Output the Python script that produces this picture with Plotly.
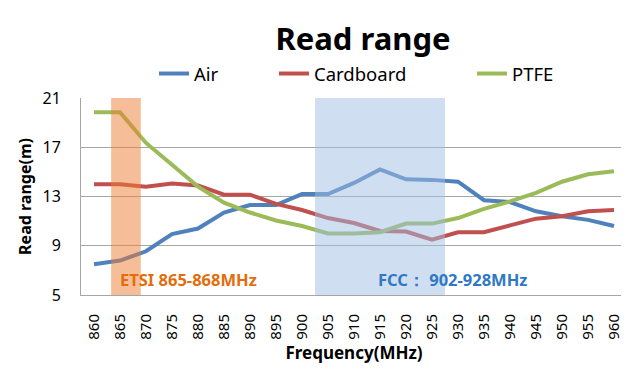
import plotly.graph_objects as go

freqs = [860, 865, 870, 875, 880, 885, 890, 895, 900, 905, 910,
         915, 920, 925, 930, 935, 940, 945, 950, 955, 960]
air = [7.5, 7.8, 8.55, 9.95, 10.4, 11.7, 12.3, 12.3, 13.2, 13.2, 14.1,
       15.2, 14.4, 14.35, 14.2, 12.7, 12.55, 11.8, 11.4, 11.1, 10.6]
cardboard = [14.0, 14.0, 13.8, 14.05, 13.9, 13.15, 13.15, 12.4, 11.9, 11.25, 10.85,
             10.2, 10.15, 9.5, 10.1, 10.1, 10.65, 11.2, 11.4, 11.8, 11.9]
ptfe = [19.85, 19.85, 17.35, 15.6, 13.8, 12.5, 11.7, 11.05, 10.6, 10.0, 10.0,
        10.1, 10.8, 10.8, 11.25, 12.0, 12.6, 13.3, 14.2, 14.8, 15.05]

series_names = ["Air", "Cardboard", "PTFE"]
series_colors = ["#4F81BD", "#C0504D", "#9BBB59"]
etsi_band = (863.3, 869.0)
fcc_band = (902.5, 927.5)
etsi_label = "ETSI 865-868MHz"
fcc_label = "FCC： 902-928MHz"

FONT = "Noto Sans"
W, H = 629, 370
L, R, T, B = 73, 10, 90, 83
PW, PH = W - L - R, H - T - B


def px_x(p):
    return (p - L) / PW


def px_y(p):
    return (H - B - p) / PH


fig = go.Figure()
legend_names = ["legend", "legend2", "legend3"]
for name, vals, col, lg in zip(series_names, [air, cardboard, ptfe], series_colors, legend_names):
    fig.add_trace(go.Scatter(x=freqs, y=vals, mode="lines", name=name,
                             line=dict(color=col, width=4), legend=lg,
                             showlegend=True))

fig.add_shape(type="rect", xref="x", yref="y", x0=etsi_band[0], x1=etsi_band[1],
              y0=4.85, y1=21, fillcolor="rgb(237,125,49)", opacity=0.5,
              line=dict(width=0), layer="above")
fig.add_shape(type="rect", xref="x", yref="y", x0=fcc_band[0], x1=fcc_band[1],
              y0=5, y1=21, fillcolor="rgb(160,190,228)", opacity=0.5,
              line=dict(width=0), layer="above")

fig.add_annotation(x=864.6, y=6.22, xref="x", yref="y", text=etsi_label,
                   showarrow=False, xanchor="left", yanchor="middle",
                   font=dict(family=FONT, size=16.5, color="#E46C0A", weight="bold"))
fig.add_annotation(x=914.2, y=6.22, xref="x", yref="y", text=fcc_label,
                   showarrow=False, xanchor="left", yanchor="middle",
                   font=dict(family=FONT, size=16.5, color="#2F78C4", weight="bold"))

legend_style = dict(orientation="h", xref="paper", yref="paper",
                    yanchor="middle", xanchor="left", bgcolor="rgba(0,0,0,0)",
                    font=dict(family=FONT, size=18.5, color="#000000"),
                    itemwidth=30, tracegroupgap=0, visible=True)

fig.update_layout(
    width=W, height=H, showlegend=True,
    margin=dict(l=L, r=R, t=T, b=B, autoexpand=False),
    paper_bgcolor="white", plot_bgcolor="white",
    title=dict(text="<b>Read range</b>", x=355 / W, xanchor="center",
               y=1 - 31 / H, yanchor="middle",
               font=dict(family=FONT, size=31, color="#000000")),
    legend=dict(**legend_style, x=px_x(146), y=px_y(66)),
    legend2=dict(**legend_style, x=px_x(266), y=px_y(66)),
    legend3=dict(**legend_style, x=px_x(464), y=px_y(66)),
    xaxis=dict(range=[857.5, 962.5], tickmode="array", tickvals=freqs,
               ticktext=[str(f) for f in freqs], tickangle=-90,
               showgrid=False, zeroline=False, showline=True, automargin=False,
               linecolor="#A6A6A6", linewidth=1, ticks="", ticklabelstandoff=12,
               tickfont=dict(family=FONT, size=15, color="#000000"),
               title=dict(text="<b>Frequency(MHz)</b>", standoff=8,
                          font=dict(family=FONT, size=17, color="#000000"))),
    yaxis=dict(range=[5, 21], tickvals=[5, 9, 13, 17, 21], showgrid=True,
               gridcolor="#A6A6A6", gridwidth=1, zeroline=False, automargin=False,
               showline=True, linecolor="#A6A6A6", linewidth=1, ticks="",
               ticklabelstandoff=16,
               tickfont=dict(family=FONT, size=16, color="#000000"),
               title=dict(text="<b>Read range(m)</b>", standoff=6,
                          font=dict(family=FONT, size=16, color="#000000"))),
)

fig.write_html("out.html")
